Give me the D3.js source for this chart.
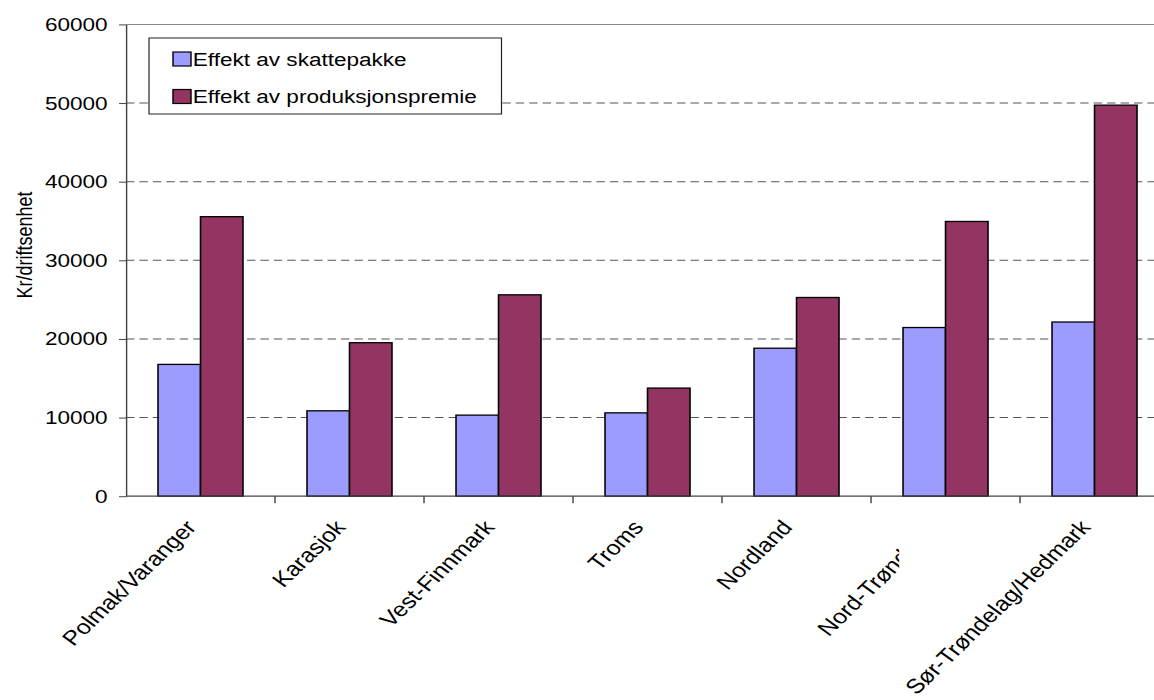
<!DOCTYPE html>
<html>
<head>
<meta charset="utf-8">
<script src="https://cdn.jsdelivr.net/npm/d3@7"></script>
<style>
  html, body { margin: 0; padding: 0; background: #fff; }
  svg { display: block; }
  text { font-family: "Liberation Sans", Arial, sans-serif; fill: #000; }
</style>
</head>
<body>
<script>
// Chart data
const categories = ["Polmak/Varanger", "Karasjok", "Vest-Finnmark", "Troms", "Nordland", "Nord-Trøndelag", "Sør-Trøndelag/Hedmark"];
const skattepakke = [16760, 10860, 10310, 10600, 18820, 21450, 22150];
const produksjonspremie = [35550, 19520, 25610, 13750, 25270, 34940, 49730];
const seriesNames = ["Effekt av skattepakke", "Effekt av produksjonspremie"];
const seriesColors = ["#9c9cff", "#943463"];
const yTicks = [0, 10000, 20000, 30000, 40000, 50000, 60000];
const yTitle = "Kr/driftsenhet";

const WIDTH = 1154, HEIGHT = 700;
const SX = 1.2;                 // the whole drawing is widened horizontally
const innerW = WIDTH / SX;

const svg = d3.select("body").append("svg")
  .attr("width", WIDTH).attr("height", HEIGHT);
const root = svg.append("g").attr("transform", `scale(${SX},1)`);

const axisX = 105, bandW = 124.17;
const x = d3.scaleBand().domain(categories).range([axisX, axisX + bandW * categories.length]);
const xs = d3.scaleBand().domain(d3.range(seriesNames.length)).range([0, x.bandwidth()]).paddingOuter(0.753);
const y = d3.scaleLinear().domain([0, 60000]).range([496.2, 24.4]);

const series = [skattepakke, produksjonspremie];

// Top border of plot area
root.append("line")
  .attr("x1", axisX).attr("x2", innerW)
  .attr("y1", y(60000)).attr("y2", y(60000))
  .attr("stroke", "#888").attr("stroke-width", 1);

// Dashed gridlines
root.append("g").selectAll("line")
  .data(yTicks.filter(t => t > 0 && t < 60000))
  .join("line")
  .attr("x1", axisX).attr("x2", innerW)
  .attr("y1", d => y(d)).attr("y2", d => y(d))
  .attr("stroke", "#555").attr("stroke-width", 1)
  .attr("stroke-dasharray", "7,4.2");

// Bars
const groups = root.append("g").selectAll("g")
  .data(categories)
  .join("g")
  .attr("transform", d => `translate(${x(d)},0)`);

groups.selectAll("rect")
  .data((c, i) => series.map((s, k) => ({ k, v: s[i] })))
  .join("rect")
  .attr("x", d => xs(d.k))
  .attr("width", xs.bandwidth())
  .attr("y", d => y(d.v))
  .attr("height", d => y(0) - y(d.v))
  .attr("fill", d => seriesColors[d.k])
  .attr("stroke", "#000")
  .attr("stroke-width", 1.3);

// Y axis
const yAxis = root.append("g")
  .attr("transform", `translate(${axisX},0)`)
  .call(d3.axisLeft(y).tickValues(yTicks).tickSize(5.8).tickSizeOuter(0).tickPadding(9.5).tickFormat(d3.format("d")));
yAxis.select(".domain").attr("stroke", "#444").attr("stroke-width", 1.2);
yAxis.selectAll(".tick line").attr("stroke", "#444");
yAxis.selectAll(".tick text")
  .attr("font-size", "18.8px")
  .attr("font-family", "'Liberation Sans', Arial, sans-serif")
  .attr("fill", "#000");

// X baseline and boundary ticks
root.append("line")
  .attr("x1", axisX).attr("x2", innerW)
  .attr("y1", y(0)).attr("y2", y(0))
  .attr("stroke", "#444").attr("stroke-width", 1.2);
root.append("g").selectAll("line")
  .data(categories.slice(1))
  .join("line")
  .attr("x1", d => x(d)).attr("x2", d => x(d))
  .attr("y1", y(0)).attr("y2", y(0) + 7)
  .attr("stroke", "#444").attr("stroke-width", 1.2);

// Category labels
const labelY = 528;
const labels = root.append("g").selectAll("text")
  .data(categories)
  .join("text")
  .attr("transform", d => `translate(${x(d) + x.bandwidth() / 2 - 3 / SX},${labelY}) rotate(-49)`)
  .attr("text-anchor", "end")
  .attr("font-size", "20.6px")
  .text(d => d);

// White backing box behind the last label, covering the label drawn before it
const lastNode = labels.nodes()[labels.size() - 1];
const bb = lastNode.getBoundingClientRect();
const sb = svg.node().getBoundingClientRect();
d3.select(lastNode.parentNode).insert("rect", () => lastNode)
  .attr("x", (bb.left - sb.left) / SX)
  .attr("y", bb.top - sb.top)
  .attr("width", bb.width / SX)
  .attr("height", bb.height)
  .attr("fill", "#fff");

// Y axis title
root.append("text")
  .attr("transform", `translate(${24 / SX},245) rotate(-90)`)
  .attr("text-anchor", "middle")
  .attr("dy", "0.35em")
  .attr("font-size", "18px")
  .text(yTitle);

// Legend
const legend = root.append("g");
legend.append("rect")
  .attr("x", 149 / SX).attr("y", 38)
  .attr("width", (501.5 - 149) / SX).attr("height", 76)
  .attr("fill", "#fff").attr("stroke", "#222").attr("stroke-width", 1);
const items = legend.selectAll("g.item")
  .data(seriesNames)
  .join("g")
  .attr("class", "item")
  .attr("transform", (d, i) => `translate(${173 / SX},${59 + i * 37.5})`);
items.append("rect")
  .attr("x", 0).attr("y", -7)
  .attr("width", 15).attr("height", 14)
  .attr("fill", (d, i) => seriesColors[i])
  .attr("stroke", "#000").attr("stroke-width", 1.2);
items.append("text")
  .attr("x", 16.5)
  .attr("dy", "0.36em")
  .attr("font-size", "18.8px")
  .text(d => d);
</script>
</body>
</html>
